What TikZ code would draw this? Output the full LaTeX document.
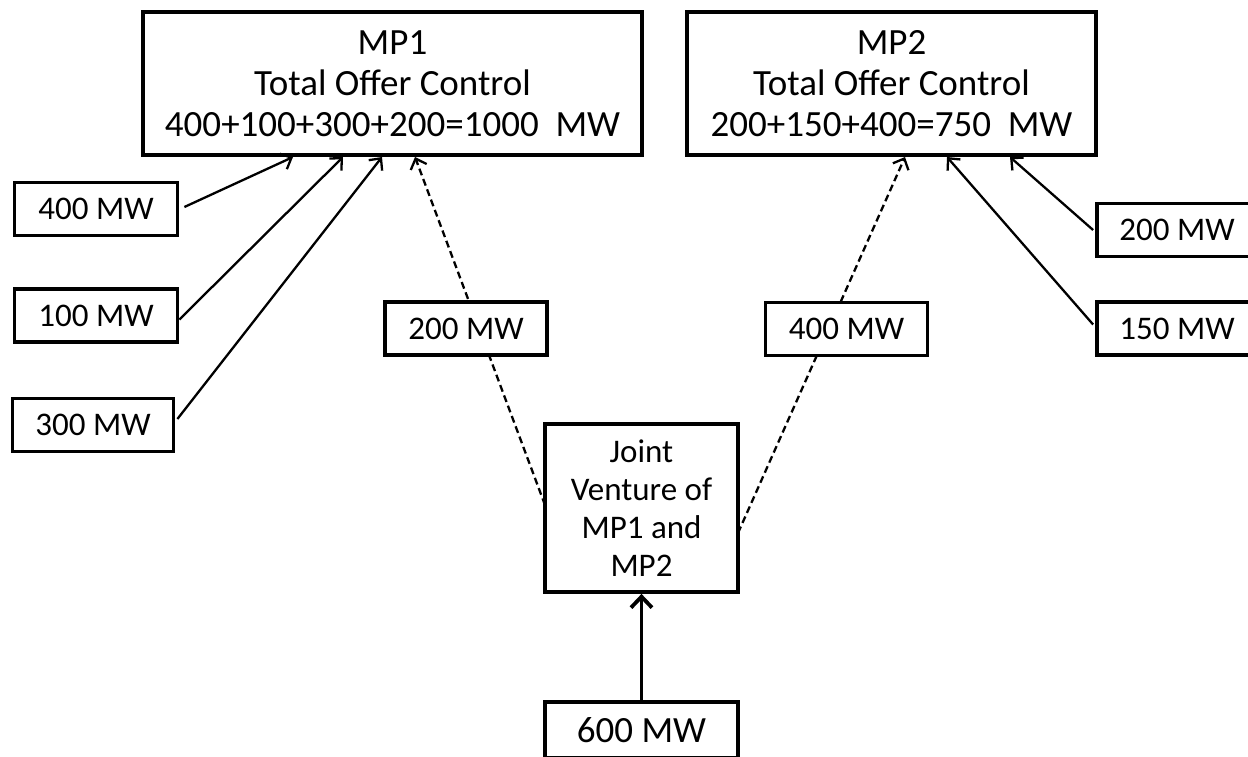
\documentclass[tikz,border=0pt]{standalone}
\usepackage{fontspec}
\setmainfont{Carlito}
\usetikzlibrary{arrows.meta}
\begin{document}
\begin{tikzpicture}[x=1pt,y=-1pt,
  bigbox/.style={draw, line width=3.8pt, inner sep=0pt, align=center,
    minimum height=143pt, font=\fontsize{37}{41}\selectfont},
  mwbox/.style={draw, line width=3.8pt, inner sep=0pt,
    minimum width=162pt, minimum height=53pt, fill=white,
    font=\fontsize{33}{38}\selectfont},
  feed/.style={line width=2.3pt, -{Straight Barb[length=9pt,width=17pt,line width=2.3pt]}},
  share/.style={feed, dash pattern=on 7pt off 4pt},
  supply/.style={line width=3.8pt, -{Straight Barb[length=11pt,width=21pt,line width=3.8pt]}}
]
\clip (0,0) rectangle (1248,757);
\useasboundingbox (0,0) rectangle (1248,757);

% market participants
\node[bigbox, minimum width=499pt] (mp1) at (392.5,83.5)
  {MP1\\Total Offer Control\\400+100+300+200=1000\ \ MW};
\node[bigbox, minimum width=409pt] (mp2) at (891.5,83.5)
  {MP2\\Total Offer Control\\200+150+400=750\ \ MW};

% arrow targets on the lower edges
\coordinate (a1) at (293,157);
\coordinate (a2) at (343,157);
\coordinate (a3) at (382,157);
\coordinate (a4) at (415,157);
\coordinate (b1) at (905,157);
\coordinate (b2) at (947,157);
\coordinate (b3) at (1010,157);

% joint venture and its supply
\node[draw, line width=3.8pt, inner sep=0pt, align=center,
  minimum width=193pt, minimum height=168pt,
  font=\fontsize{33}{38}\selectfont] (jv) at (641.5,508)
  {Joint\\Venture of\\MP1 and\\MP2};
\node[draw, line width=3.8pt, inner sep=0pt, minimum width=193pt,
  minimum height=56pt, font=\fontsize{37}{41}\selectfont] (s600) at (641.5,730)
  {600 MW};
\coordinate (jvL) at (545,505);
\coordinate (jvR) at (738,533);

% shares of the joint venture (dashed lines pass behind the labels)
\draw[share] (jvL) -- (a4);
\draw[share] (jvR) -- (b1);
\node[mwbox] (s200) at (466,328.5) {200 MW};
\node[mwbox] (s400) at (846.5,329) {400 MW};

% own units
\node[mwbox, minimum width=163pt] (u400) at (96,209) {400 MW};
\node[mwbox, minimum width=163pt] (u100) at (96,315.5) {100 MW};
\node[mwbox, minimum width=161pt] (u300) at (93,425) {300 MW};
\node[mwbox, minimum width=160pt] (u200) at (1177,230) {200 MW};
\node[mwbox, minimum width=160pt] (u150) at (1177,328.5) {150 MW};

\draw[feed] ([xshift=5pt,yshift=2pt]u400.east) -- (a1);
\draw[feed] ([yshift=-4pt]u100.east) -- (a2);
\draw[feed] ([xshift=2pt,yshift=6pt]u300.east) -- (a3);
\draw[feed] ([xshift=-2pt]u200.west) -- (b3);
\draw[feed] ([xshift=-2pt,yshift=4pt]u150.west) -- (b2);

\draw[supply] (s600.north) -- (jv.south);
\end{tikzpicture}
\end{document}
